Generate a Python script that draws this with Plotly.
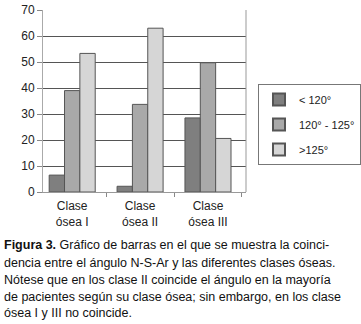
import plotly.graph_objects as go

categories = ["Clase<br>ósea I", "Clase<br>ósea II", "Clase<br>ósea III"]
series_names = ["< 120°", "120° - 125°", ">125°"]
lt120 = [6.5, 2.2, 28.5]
mid = [39, 33.7, 49.7]
gt125 = [53.3, 63, 20.6]
y_ticks = [0, 10, 20, 30, 40, 50, 60, 70]

caption_lines = [
    "<b>Figura 3.</b> Gráfico de barras en el que se muestra la coinci-",
    "dencia entre el ángulo N-S-Ar y las diferentes clases óseas.",
    "Nótese que en los clase II coincide el ángulo en la mayoría",
    "de pacientes según su clase ósea; sin embargo, en los clase",
    "ósea I y III no coincide.",
]

W, H = 361, 324
L, R, T, B = 43, 246, 10, 192

colors = ["#7f7f7f", "#a9a9a9", "#d6d6d6"]
bw = 0.226
offsets = [-0.339, -0.113, 0.113]

fig = go.Figure()
for i, (name, vals) in enumerate(zip(series_names, [lt120, mid, gt125])):
    fig.add_trace(go.Bar(
        x=categories, y=vals, name=name,
        marker=dict(color=colors[i], line=dict(color="#555555", width=1)),
        width=bw, offset=offsets[i], legendgroup=str(i),
    ))

fig.update_layout(
    width=W, height=H,
    margin=dict(l=L, r=W - R, t=T, b=H - B, autoexpand=False),
    paper_bgcolor="white", plot_bgcolor="white",
    barmode="overlay",
    font=dict(family="Liberation Sans, Arial, sans-serif", size=11, color="#222222"),
    showlegend=True,
    legend=dict(
        x=(258 - L) / (R - L), xanchor="left",
        y=(B - 84) / (B - T), yanchor="top",
        bordercolor="#777777", borderwidth=1, bgcolor="white",
        font=dict(size=11, color="#222222"),
        tracegroupgap=6, itemsizing="constant", itemwidth=30,
    ),
    xaxis=dict(
        range=[-0.43, 2.56], tickson="boundaries", ticks="outside", ticklen=4,
        tickcolor="#888888", showline=True, linecolor="#999999", linewidth=1,
        mirror=False, showgrid=False, fixedrange=True, automargin=False,
        ticklabelstandoff=3,
        tickfont=dict(size=12, color="#222222"),
    ),
    yaxis=dict(
        range=[0, 70], tickvals=y_ticks, ticks="outside", ticklen=5,
        tickcolor="#888888", showline=True, linecolor="#aaaaaa", linewidth=1,
        showgrid=True, gridcolor="#555555", gridwidth=1, zeroline=False,
        automargin=False, ticklabeloverflow="allow", fixedrange=True,
        tickfont=dict(size=12, color="#222222"),
    ),
)

# right border of plot area
fig.add_shape(type="line", xref="paper", yref="paper", x0=1, x1=1, y0=0, y1=1,
              line=dict(color="#999999", width=1))

line_y = [245, 263, 280, 297, 313]
for txt, py in zip(caption_lines, line_y):
    fig.add_annotation(
        text=txt, xref="paper", yref="paper",
        x=(2 - L) / (R - L), y=(B - py) / (B - T),
        xanchor="left", yanchor="middle", showarrow=False,
        font=dict(size=12.5, color="#111111", family="Liberation Sans, Arial, sans-serif"),
        align="left",
    )

fig.write_html("out.html",
               config={"displayModeBar": False},
               post_script="document.body.style.margin='0';document.body.style.overflow='hidden';")
